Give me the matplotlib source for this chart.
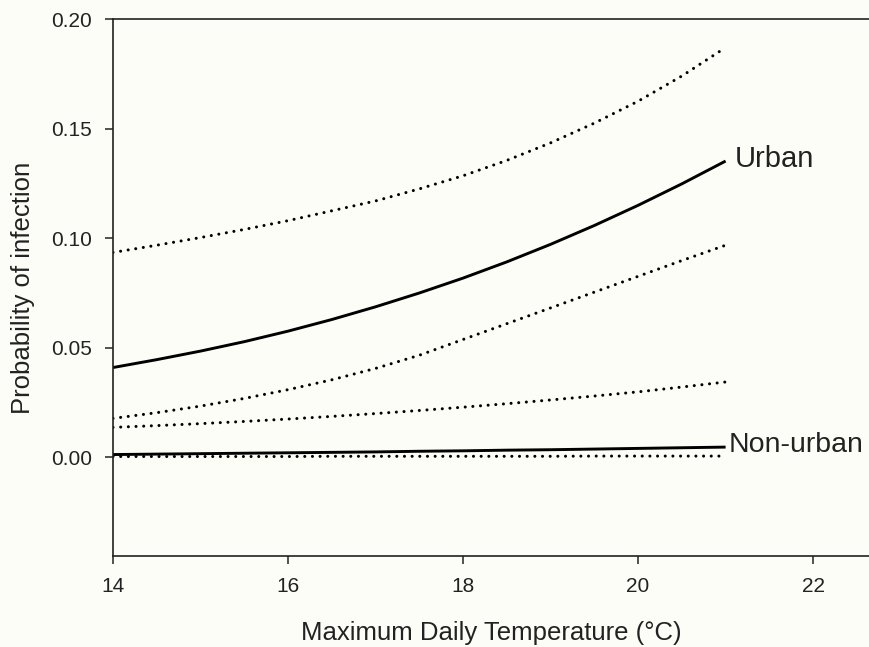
import numpy as np
import matplotlib
matplotlib.use('Agg')
import matplotlib.pyplot as plt

# --- data (every 0.5 degC) ---
temp = [14, 14.5, 15, 15.5, 16, 16.5, 17, 17.5, 18, 18.5, 19, 19.5, 20, 20.5, 21]

urban_mid = [0.0410, 0.0446, 0.0485, 0.0528, 0.0576, 0.0629, 0.0687, 0.0750,
             0.0818, 0.0892, 0.0972, 0.1058, 0.1150, 0.1248, 0.1352]
urban_hi  = [0.0935, 0.0968, 0.1003, 0.1040, 0.1080, 0.1125, 0.1170, 0.1225,
             0.1285, 0.1355, 0.1435, 0.1525, 0.1625, 0.1740, 0.1870]
urban_lo  = [0.0178, 0.0204, 0.0234, 0.0269, 0.0309, 0.0354, 0.0406, 0.0466,
             0.0538, 0.0610, 0.0682, 0.0754, 0.0826, 0.0898, 0.0968]

rural_mid = [0.0013, 0.0015, 0.0017, 0.0019, 0.0021, 0.0023, 0.0025, 0.0028,
             0.0030, 0.0033, 0.0035, 0.0038, 0.0041, 0.0044, 0.0047]
rural_hi  = [0.0137, 0.0145, 0.0154, 0.0164, 0.0175, 0.0187, 0.0200, 0.0214,
             0.0229, 0.0245, 0.0262, 0.0280, 0.0299, 0.0321, 0.0344]
rural_lo  = [0.0004, 0.0004, 0.0004, 0.0004, 0.0004, 0.0005, 0.0005, 0.0005,
             0.0005, 0.0005, 0.0005, 0.0006, 0.0006, 0.0006, 0.0006]

BG = '#fdfdf8'
INK = '#222222'

plt.rcParams.update({'font.family': ['Liberation Sans', 'DejaVu Sans']})

fig = plt.figure(figsize=(8.7, 6.47), dpi=100, facecolor=BG)
ax = fig.add_axes([0.1299, 0.1406, 0.8701, 0.8300], facecolor=BG)

# solid = estimate, dotted = confidence bounds
ax.plot(temp, urban_mid, color='black', lw=2.1, solid_capstyle='butt')
ax.plot(temp, rural_mid, color='black', lw=2.1, solid_capstyle='butt')
dots = (0, (0.01, 2.5))
for y in [urban_hi, urban_lo, rural_hi, rural_lo]:
    ax.plot(temp, y, color='black', lw=2.2, linestyle=dots, dash_capstyle='round')

ax.text(21.10, urban_mid[-1] + 0.001, 'Urban', fontsize=21, color=INK,
        va='center', ha='left')
ax.text(21.03, rural_mid[-1] + 0.0008, 'Non-urban', fontsize=20.5, color=INK,
        va='center', ha='left')

ax.set_xlim(14, 22.65)
ax.set_ylim(-0.0450, 0.20)
ax.set_xticks([14, 16, 18, 20, 22])
ax.set_yticks([0.00, 0.05, 0.10, 0.15, 0.20])
ax.set_yticklabels(['0.00', '0.05', '0.10', '0.15', '0.20'])

ax.spines['right'].set_visible(False)
for s in ['left', 'top', 'bottom']:
    ax.spines[s].set_linewidth(1.2)
    ax.spines[s].set_color(INK)
ax.tick_params(direction='out', length=6, width=1.1, color=INK,
               labelsize=15, labelcolor=INK, pad=9)

ax.set_xlabel('Maximum Daily Temperature (°C)', fontsize=18.5, color=INK, labelpad=18)
ax.set_ylabel('Probability of infection', fontsize=18.5, color=INK, labelpad=12)

fig.savefig('out.png', dpi=100, facecolor=BG)
